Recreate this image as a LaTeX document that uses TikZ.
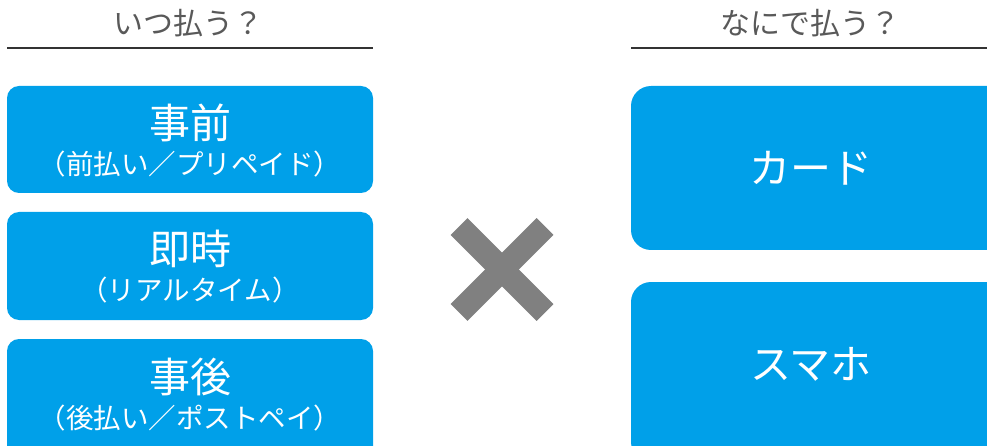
\documentclass[tikz,border=0pt]{standalone}
\usepackage{fontspec}
\setmainfont{Noto Sans CJK JP}
\usetikzlibrary{calc}

\definecolor{boxblue}{HTML}{00A0E9}
\definecolor{headgray}{HTML}{595959}
\definecolor{crossgray}{HTML}{808080}

\tikzset{
  paybox/.style={fill=boxblue, draw=none, rounded corners=12pt, inner sep=0pt},
  headtxt/.style={text=headgray, font=\fontsize{30}{32}\selectfont, inner sep=0pt},
  maintxt/.style={text=white, font=\fontsize{41}{44}\selectfont, inner sep=0pt},
  subtxt/.style={text=white, font=\fontsize{27.5}{30}\selectfont, inner sep=0pt},
}

\begin{document}
\begin{tikzpicture}[x=1pt,y=-1pt]
  \useasboundingbox (0,0) rectangle (987,446);
  \clip (0,0) rectangle (987,446);

  % 見出し
  \node[headtxt] (whenhead) at (188,23) {いつ払う？};
  \node[headtxt] (howhead) at (810,23) {なにで払う？};
  \draw[line width=1.5pt, color=black!80] (7,48) coordinate (wl) -- (373,48) coordinate (wr);
  \draw[line width=1.5pt, color=black!80] (631,48) coordinate (hl) -- (987,48) coordinate (hr);

  % いつ払う
  \node[paybox, minimum width=366pt, minimum height=107pt] (pre) at (190,139.5) {};
  \node[paybox, minimum width=366pt, minimum height=108pt] (now) at (190,266) {};
  \node[paybox, minimum width=366pt, minimum height=120pt] (post) at (190,399) {};

  \node[maintxt] (pretxt) at (190,123) {事前};
  \node[subtxt] (presub) at (190,164) {（前払い／プリペイド）};
  \node[maintxt] (nowtxt) at (190,249) {即時};
  \node[subtxt] (nowsub) at (190,290) {（リアルタイム）};
  \node[maintxt] (posttxt) at (190,377) {事後};
  \node[subtxt] (postsub) at (190,418) {（後払い／ポストペイ）};

  % なにで払う
  \node[paybox, rounded corners=20pt, minimum width=380pt, minimum height=164pt] (card) at (821,168) {};
  \node[paybox, rounded corners=20pt, minimum width=380pt, minimum height=180pt] (phone) at (821,372) {};
  \node[maintxt] (cardtxt) at (811,168) {カード};
  \node[maintxt] (phonetxt) at (811,364) {スマホ};

  % かける
  \coordinate (X) at (502,269.5);
  \draw[crossgray, line width=24pt] ($(X)+(-43,-43)$) -- ($(X)+(43,43)$);
  \draw[crossgray, line width=24pt] ($(X)+(-43,43)$) -- ($(X)+(43,-43)$);
\end{tikzpicture}
\end{document}
